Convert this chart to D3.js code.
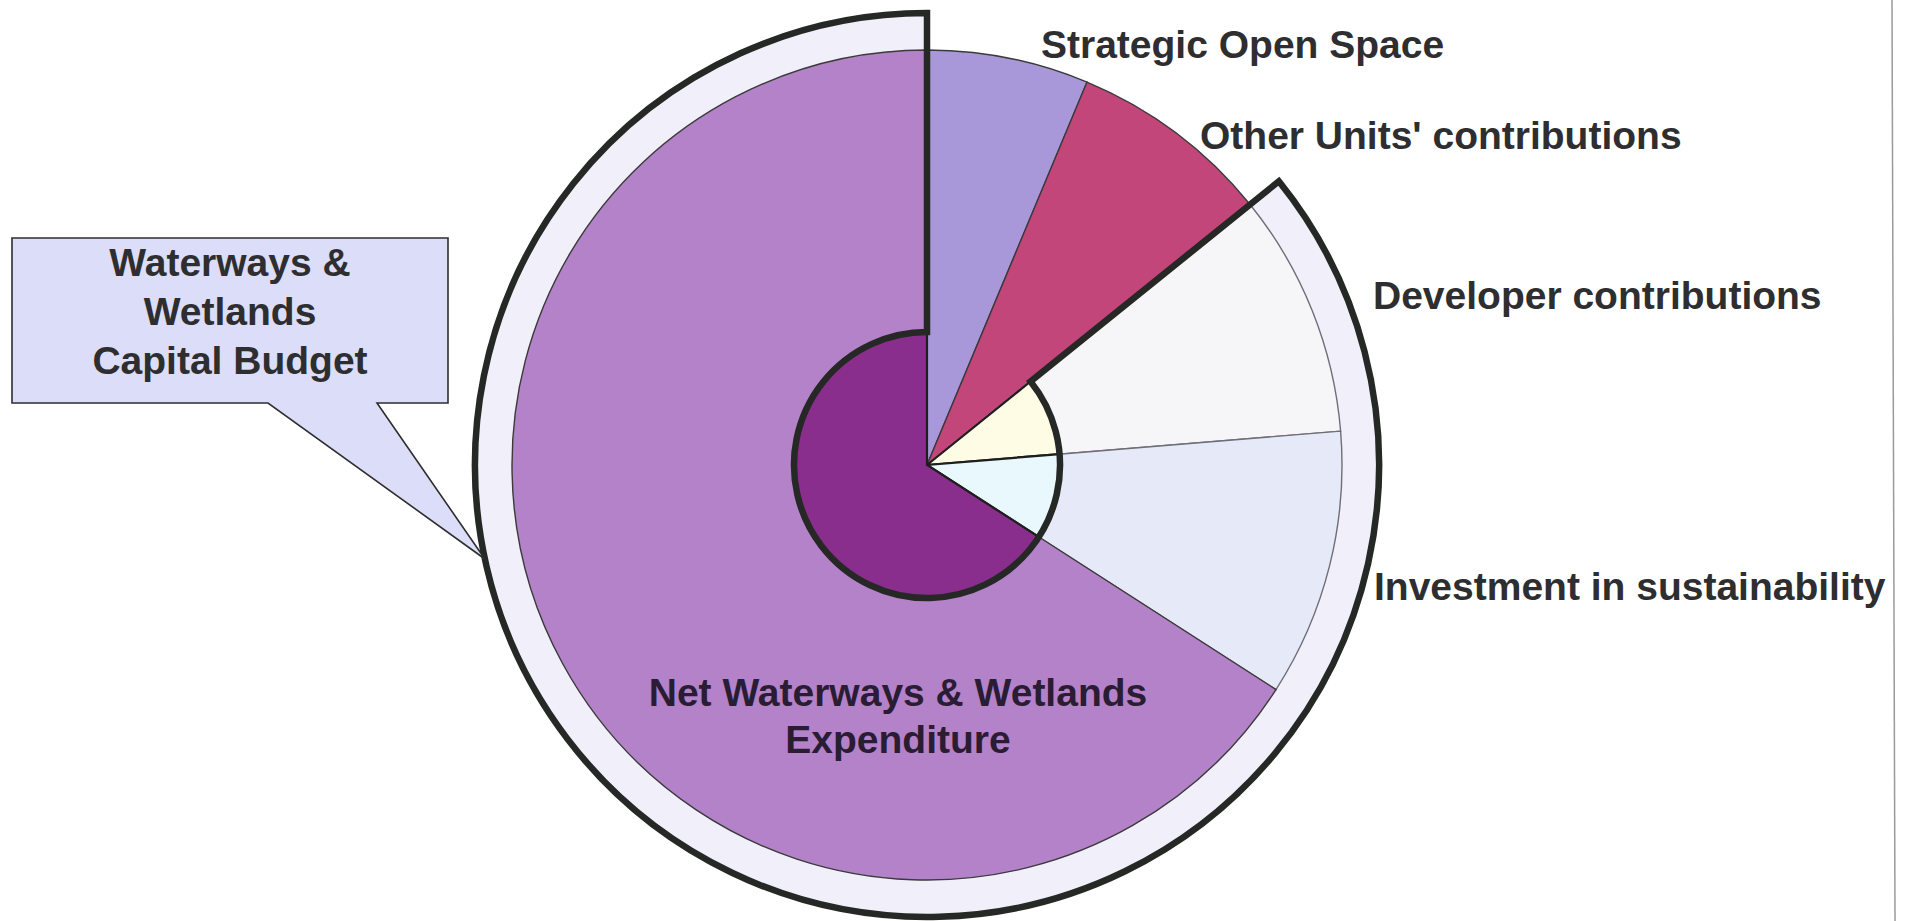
<!DOCTYPE html>
<html>
<head>
<meta charset="utf-8">
<script src="https://cdn.jsdelivr.net/npm/d3@7"></script>
<style>
  html, body { margin: 0; padding: 0; background: #fff; }
  svg { display: block; font-family: "Liberation Sans", Arial, sans-serif; }
</style>
</head>
<body>
<svg id="chart" width="1910" height="921"></svg>
<script>
// slice shares (percent of the whole)
var categories = ["Strategic Open Space", "Other Units' contributions", "Developer contributions",
                  "Investment in sustainability", "Net Waterways & Wetlands Expenditure"];
var values = [6.3, 7.9, 9.5, 10.4, 65.9];
var outerColors = ["#a898da", "#c3467b", "#f6f6f9", "#e5e9f8", "#b482c8"];
// inner ring only for the parts of the capital budget
var innerColors = [null, null, "#fffce6", "#e9f8fc", "#8a2e8e"];
var calloutLines = ["Waterways &", "Wetlands", "Capital Budget"];

var width = 1910, height = 921;
var cx = 927, cy = 465;
var rInner = 133, rPie = 415, rRing = 452;

var svg = d3.select("#chart");

// right page edge
svg.append("line")
    .attr("x1", 1892).attr("y1", 0).attr("x2", 1895).attr("y2", height)
    .style("stroke", "#9a9a9a").style("stroke-width", 1.5);

var pie = d3.pie().sort(null).value(function(d) { return d; });
var arcs = pie(values);

var g = svg.append("g").attr("transform", "translate(" + cx + "," + cy + ")");

// the budget group spans from the end of Other Units' slice to the top
var groupStart = arcs[2].startAngle, groupEnd = 2 * Math.PI;

var outerArc = d3.arc().innerRadius(0).outerRadius(rPie);
var innerArc = d3.arc().innerRadius(0).outerRadius(rInner);
var bandArc = d3.arc().innerRadius(rPie).outerRadius(rRing);
var groupArc = d3.arc().innerRadius(rInner).outerRadius(rRing);

// callout box pointing at the ring
var tipAngle = 258 * Math.PI / 180;
var tipX = cx + rRing * Math.sin(tipAngle), tipY = cy - rRing * Math.cos(tipAngle);
var box = {x0: 12, y0: 238, x1: 448, y1: 403, p0: 268, p1: 377};
svg.append("path")
    .attr("d", "M" + box.x0 + "," + box.y0 + "H" + box.x1 + "V" + box.y1 + "H" + box.p1 +
               "L" + tipX + "," + tipY + "L" + box.p0 + "," + box.y1 + "H" + box.x0 + "Z")
    .style("fill", "#dcddf8").style("stroke", "#2e2e2e").style("stroke-width", 1.6);

svg.append("g").selectAll("text")
    .data(calloutLines)
    .enter().append("text")
      .attr("x", 230)
      .attr("y", function(d, i) { return 276 + i * 49; })
      .attr("text-anchor", "middle")
      .style("font-size", "39px").style("font-weight", "bold").style("fill", "#2e2e30")
      .text(function(d) { return d; });

// light band around the budget group
g.append("path")
    .attr("d", bandArc({startAngle: groupStart, endAngle: groupEnd}))
    .style("fill", "#f1f0fa");

g.append("g").selectAll("path")
    .data(arcs)
    .enter().append("path")
      .attr("d", outerArc)
      .style("fill", function(d, i) { return outerColors[i]; })
      .style("stroke", function(d, i) { return i === 2 || i === 3 ? "#6e6e78" : "#3a3a3a"; })
      .style("stroke-width", 1.4);

g.append("g").selectAll("path")
    .data(arcs.filter(function(d, i) { return innerColors[i]; }))
    .enter().append("path")
      .attr("d", innerArc)
      .style("fill", function(d) { return innerColors[d.index]; })
      .style("stroke", "#1e1e1e")
      .style("stroke-width", 2.2);

// thick outline of the capital budget group
g.append("path")
    .attr("d", groupArc({startAngle: groupStart, endAngle: groupEnd}))
    .style("fill", "none")
    .style("stroke", "#262826")
    .style("stroke-width", 6.5)
    .style("stroke-linejoin", "miter");

// labels
var labelPos = [
  {x: 1041, y: 58, anchor: "start"},
  {x: 1200, y: 149, anchor: "start"},
  {x: 1373, y: 309, anchor: "start"},
  {x: 1374, y: 600, anchor: "start"}
];
svg.append("g").selectAll("text")
    .data(labelPos)
    .enter().append("text")
      .attr("x", function(d) { return d.x; })
      .attr("y", function(d) { return d.y; })
      .attr("text-anchor", function(d) { return d.anchor; })
      .style("font-size", "39px").style("font-weight", "bold").style("fill", "#2e2e30")
      .text(function(d, i) { return categories[i]; });

var netLines = ["Net Waterways & Wetlands", "Expenditure"];
svg.append("g").selectAll("text")
    .data(netLines)
    .enter().append("text")
      .attr("x", 898)
      .attr("y", function(d, i) { return 706 + i * 47; })
      .attr("text-anchor", "middle")
      .style("font-size", "39px").style("font-weight", "bold").style("fill", "#2a1c33")
      .text(function(d) { return d; });
</script>
</body>
</html>
